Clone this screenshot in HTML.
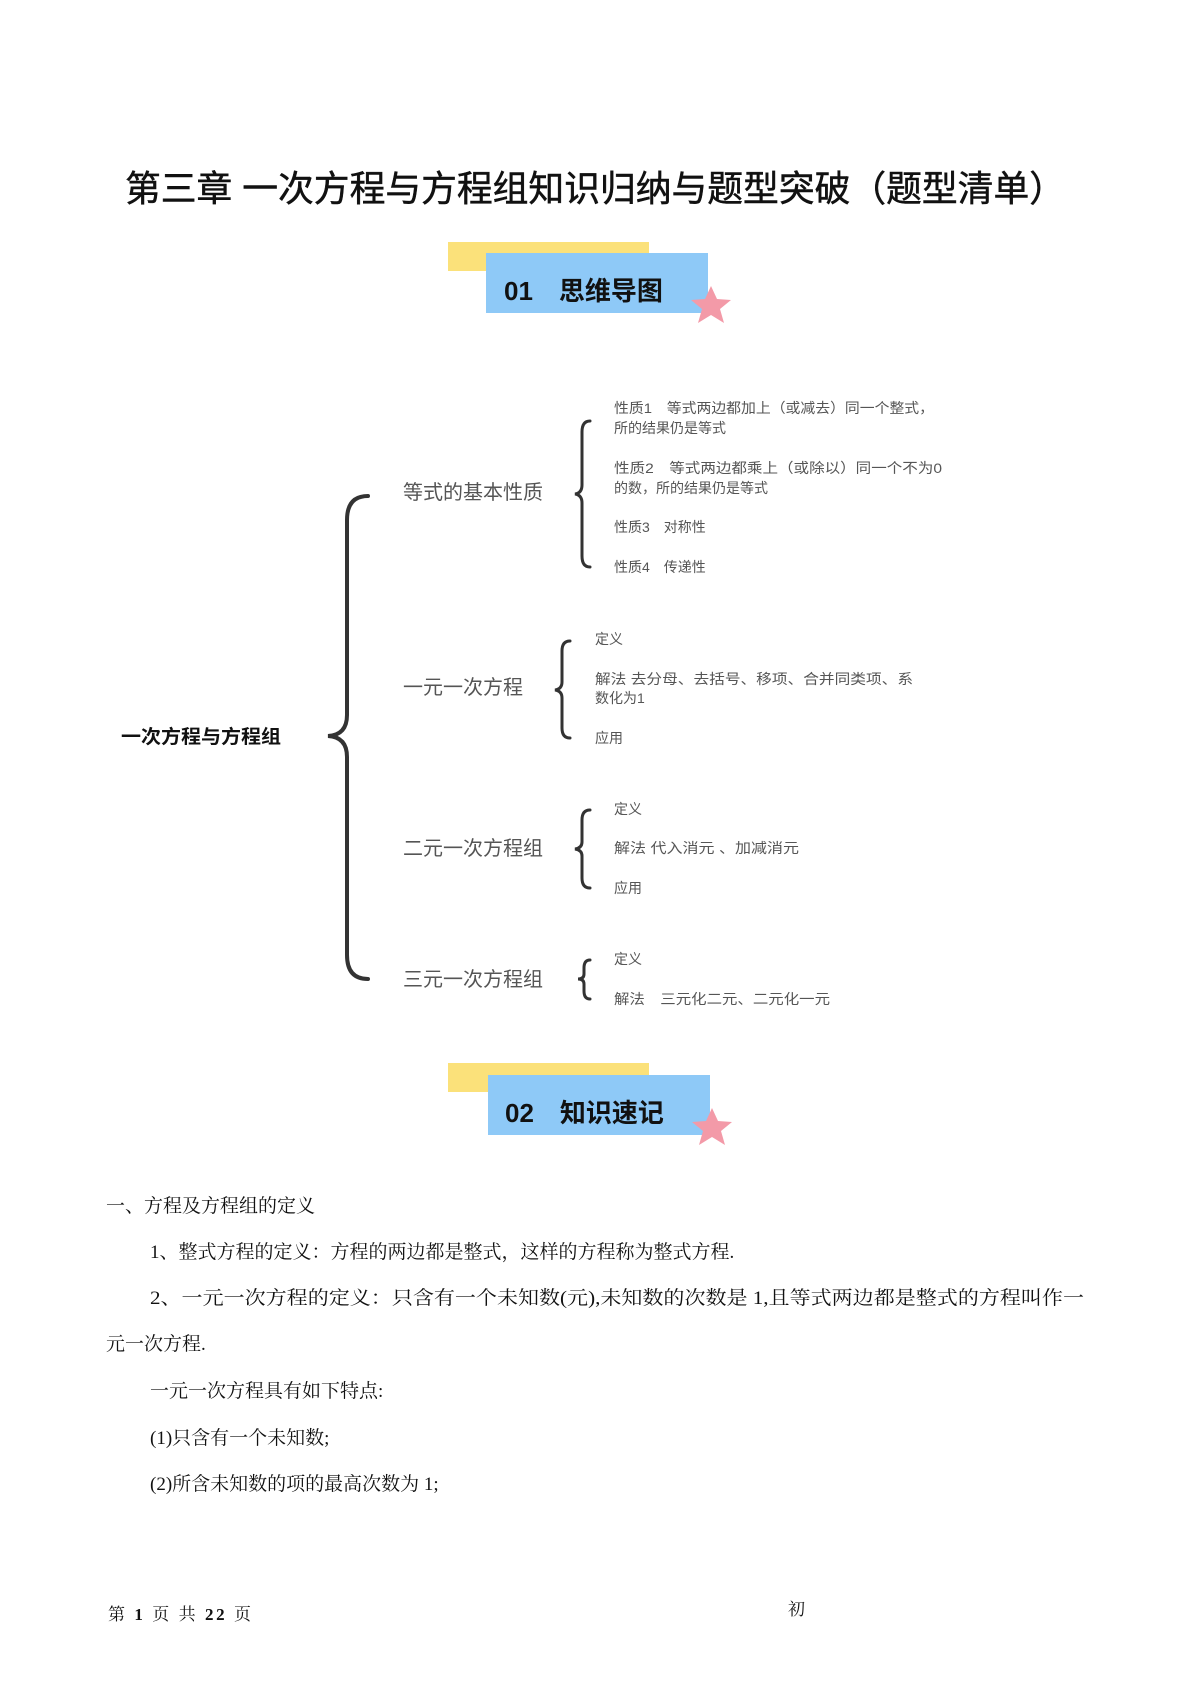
<!DOCTYPE html>
<html><head><meta charset="utf-8"><style>
html,body{margin:0;padding:0;background:#fff;}
svg{display:block;}
.s{font-family:"Liberation Sans","Noto Sans CJK SC",sans-serif;}
.r{font-family:"Liberation Serif","Noto Serif CJK SC",serif;}
</style></head><body>
<svg width="1190" height="1682" viewBox="0 0 1190 1682" xmlns="http://www.w3.org/2000/svg">
<text class="s" x="595" y="201" font-size="36" text-anchor="middle" fill="#111" stroke="#111" stroke-width="0.5" textLength="940" lengthAdjust="spacingAndGlyphs">第三章 一次方程与方程组知识归纳与题型突破（题型清单）</text>

<g>
<rect x="448" y="242" width="201" height="29" fill="#fbe17a"/>
<rect x="486" y="253" width="222" height="60" fill="#8ec9f7"/>
<text class="s" x="504" y="300" font-size="26" font-weight="bold" fill="#111">01　思维导图</text>
<polygon points="711,286 717,299 731,300 720,309 724,323 711,315 698,323 702,309 691,300 705,299" fill="#f39aa8"/>
</g>

<g fill="none" stroke="#333" stroke-width="4" stroke-linecap="round">
<path d="M368,496 Q347,496 347,520 L347,715 Q347,735 328,736 Q347,737 347,757 L347,955 Q347,979 368,979"/>
<path stroke-width="3" d="M590,421 Q582,421 582,432 L582,485 Q582,493 575,494 Q582,495 582,503 L582,556 Q582,567 590,567"/>
<path stroke-width="3" d="M570,641 Q562,641 562,651 L562,682 Q562,689 555,690 Q562,691 562,698 L562,728 Q562,738 570,738"/>
<path stroke-width="3" d="M590,810 Q582,810 582,820 L582,842 Q582,848 575,849 Q582,850 582,856 L582,878 Q582,888 590,888"/>
<path stroke-width="3" d="M590,960 Q584,960 584,968 L584,974 Q584,979 578,979 Q584,979 584,984 L584,991 Q584,999 590,999"/>
</g>

<text class="s" x="121" y="743" font-size="19" font-weight="bold" fill="#111" textLength="160" lengthAdjust="spacingAndGlyphs">一次方程与方程组</text>
<g class="s" fill="#555" font-size="20">
<text x="403" y="499">等式的基本性质</text>
<text x="403" y="694">一元一次方程</text>
<text x="403" y="855">二元一次方程组</text>
<text x="403" y="986">三元一次方程组</text>
</g>
<g class="s" fill="#555" font-size="14">
<text x="614" y="413" textLength="320" lengthAdjust="spacingAndGlyphs">性质1　等式两边都加上（或减去）同一个整式，</text>
<text x="614" y="433">所的结果仍是等式</text>
<text x="614" y="473" textLength="328" lengthAdjust="spacingAndGlyphs">性质2　等式两边都乘上（或除以）同一个不为0</text>
<text x="614" y="493">的数，所的结果仍是等式</text>
<text x="614" y="532">性质3　对称性</text>
<text x="614" y="572">性质4　传递性</text>
<text x="595" y="644">定义</text>
<text x="595" y="684" textLength="318" lengthAdjust="spacingAndGlyphs">解法  去分母、去括号、移项、合并同类项、系</text>
<text x="595" y="703">数化为1</text>
<text x="595" y="743">应用</text>
<text x="614" y="814">定义</text>
<text x="614" y="853" textLength="185" lengthAdjust="spacingAndGlyphs">解法  代入消元 、加减消元</text>
<text x="614" y="893">应用</text>
<text x="614" y="964">定义</text>
<text x="614" y="1004" textLength="216" lengthAdjust="spacingAndGlyphs">解法　三元化二元、二元化一元</text>
</g>

<g>
<rect x="448" y="1063" width="201" height="29" fill="#fbe17a"/>
<rect x="488" y="1075" width="222" height="60" fill="#8ec9f7"/>
<text class="s" x="505" y="1122" font-size="26" font-weight="bold" fill="#111">02　知识速记</text>
<polygon points="712,1108 718,1121 732,1122 721,1131 725,1145 712,1137 699,1145 703,1131 692,1122 706,1121" fill="#f39aa8"/>
</g>

<g class="r" fill="#111" font-size="19">
<text x="106" y="1212">一、方程及方程组的定义</text>
<text x="150" y="1258">1、整式方程的定义：方程的两边都是整式，这样的方程称为整式方程.</text>
<text x="150" y="1304" textLength="934" lengthAdjust="spacingAndGlyphs">2、一元一次方程的定义：只含有一个未知数(元),未知数的次数是 1,且等式两边都是整式的方程叫作一</text>
<text x="106" y="1350">元一次方程.</text>
<text x="150" y="1397">一元一次方程具有如下特点:</text>
<text x="150" y="1444">(1)只含有一个未知数;</text>
<text x="150" y="1490">(2)所含未知数的项的最高次数为 1;</text>
</g>
<g class="r" fill="#111" font-size="17">
<text x="108" y="1620" textLength="143" lengthAdjust="spacing">第 <tspan font-weight="bold">1</tspan> 页 共 <tspan font-weight="bold">22</tspan> 页</text>
<text x="788" y="1615">初</text>
</g>
</svg>
</body></html>
